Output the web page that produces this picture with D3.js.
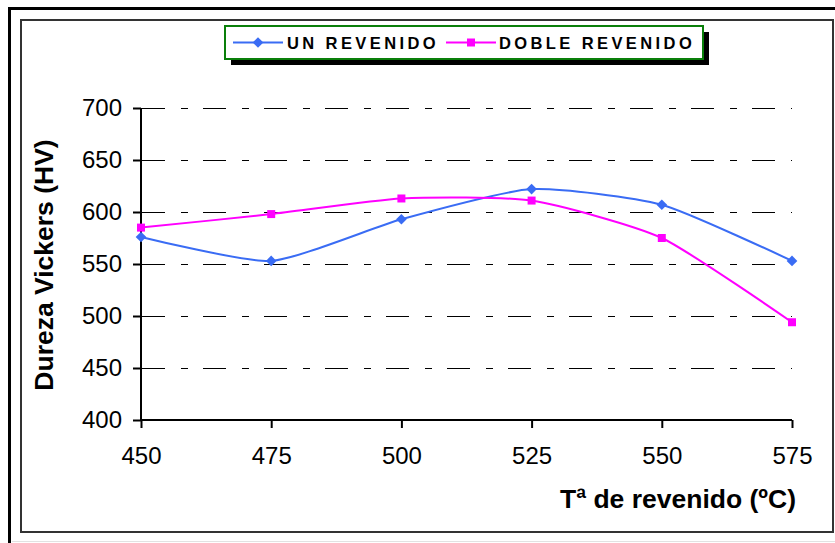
<!DOCTYPE html>
<html><head><meta charset="utf-8">
<script src="https://cdn.jsdelivr.net/npm/d3@7"></script>
<style>
html,body{margin:0;padding:0;background:#fff;}
svg{display:block;font-family:Arial,"Liberation Sans",sans-serif;}
</style></head>
<body>
<svg id="chart" width="835" height="543"></svg>
<script>
const temps = [450, 475, 500, 525, 550, 575];
const unRevenido = [576, 553, 593, 622, 607, 553];
const dobleRevenido = [585, 598, 613, 611, 575, 494];
const yTicks = [400, 450, 500, 550, 600, 650, 700];
const seriesNames = ["UN REVENIDO", "DOBLE REVENIDO"];
const seriesColors = ["#3a6cf4", "#ff00ff"];

const svg = d3.select("#chart");
svg.append("rect").attr("width", 835).attr("height", 543).attr("fill", "#fff");

// outer frame
svg.append("path").attr("d", "M9.5,545 V8.5 H840").attr("fill", "none").attr("stroke", "#000").attr("stroke-width", 3);
svg.append("line").attr("x1", 12).attr("x2", 835).attr("y1", 541.5).attr("y2", 541.5).attr("stroke", "#e2e2e2").attr("stroke-width", 1);
// inner frame
svg.append("rect").attr("x", 21).attr("y", 20).attr("width", 812).attr("height", 512)
  .attr("fill", "none").attr("stroke", "#333").attr("stroke-width", 2);

const x = d3.scaleLinear().domain([450, 575]).range([141, 792]);
const y = d3.scaleLinear().domain([400, 700]).range([420, 108]);

// gridlines
svg.append("g").selectAll("line").data(yTicks.filter(d => d > 400)).join("line")
  .attr("x1", 142).attr("x2", 792)
  .attr("y1", d => Math.round(y(d)) + 0.5).attr("y2", d => Math.round(y(d)) + 0.5)
  .attr("stroke", "#000").attr("stroke-width", 1)
  .attr("stroke-dasharray", "23,16,7,15");

// axes
const yAxis = svg.append("g").attr("transform", "translate(141,0)")
  .call(d3.axisLeft(y).tickValues(yTicks).tickSize(8).tickPadding(11).tickFormat(d3.format("d")));
const xAxis = svg.append("g").attr("transform", "translate(0,420)")
  .call(d3.axisBottom(x).tickValues(temps).tickSize(8).tickPadding(20).tickFormat(d3.format("d")));
[yAxis, xAxis].forEach(a => {
  a.select(".domain").attr("stroke", "#000").attr("stroke-width", 2);
  a.selectAll(".tick line").attr("stroke", "#000").attr("stroke-width", 2);
  a.selectAll(".tick text").attr("font-size", 24).attr("fill", "#000")
    .attr("font-family", "Arial, 'Liberation Sans', sans-serif");
});
xAxis.selectAll(".tick text").attr("dy", "0.66em");
yAxis.select(".domain").attr("d", "M0,108V420");
xAxis.select(".domain").attr("d", "M141,0H792");

// lines
const line = d3.line().x((d, i) => x(temps[i])).y(d => y(d)).curve(d3.curveCardinal.tension(0.4));
const allSeries = [unRevenido, dobleRevenido];
allSeries.forEach((s, k) => {
  svg.append("path").datum(s).attr("d", line).attr("fill", "none")
    .attr("stroke", seriesColors[k]).attr("stroke-width", 2);
});
// markers
const diamond = d3.symbol().type(d3.symbolDiamond2).size(72);
const square = d3.symbol().type(d3.symbolSquare).size(64);
svg.append("g").selectAll("path").data(unRevenido).join("path")
  .attr("d", diamond).attr("transform", (d, i) => `translate(${x(temps[i])},${y(d)})`)
  .attr("fill", seriesColors[0]);
svg.append("g").selectAll("path").data(dobleRevenido).join("path")
  .attr("d", square).attr("transform", (d, i) => `translate(${x(temps[i])},${y(d)})`)
  .attr("fill", seriesColors[1]);

// axis titles
svg.append("text").attr("x", 796).attr("y", 508).attr("text-anchor", "end")
  .attr("font-size", 26.5).attr("font-weight", "bold").text("Tª de revenido (ºC)");
svg.append("text").attr("transform", "translate(53,265) rotate(-90)").attr("text-anchor", "middle")
  .attr("font-size", 26.5).attr("font-weight", "bold").text("Dureza Vickers (HV)");

// legend
const lg = svg.append("g");
lg.append("rect").attr("x", 231).attr("y", 32).attr("width", 478).attr("height", 33).attr("fill", "#000");
lg.append("rect").attr("x", 225).attr("y", 26).attr("width", 478).attr("height", 33)
  .attr("fill", "#fff").attr("stroke", "#0a7f0a").attr("stroke-width", 2);
const legItems = [
  {lx: 233, tx: 287, sym: diamond},
  {lx: 446, tx: 499, sym: square}
];
legItems.forEach((it, k) => {
  lg.append("line").attr("x1", it.lx).attr("x2", it.lx + 50).attr("y1", 42.5).attr("y2", 42.5)
    .attr("stroke", seriesColors[k]).attr("stroke-width", 2);
  lg.append("path").attr("d", it.sym).attr("transform", `translate(${it.lx + 25},42.5)`).attr("fill", seriesColors[k]);
  lg.append("text").attr("x", it.tx).attr("y", 48.5).attr("font-size", 16.5).attr("font-weight", "bold")
    .attr("letter-spacing", 3.4).text(seriesNames[k]);
});
</script>
</body></html>
